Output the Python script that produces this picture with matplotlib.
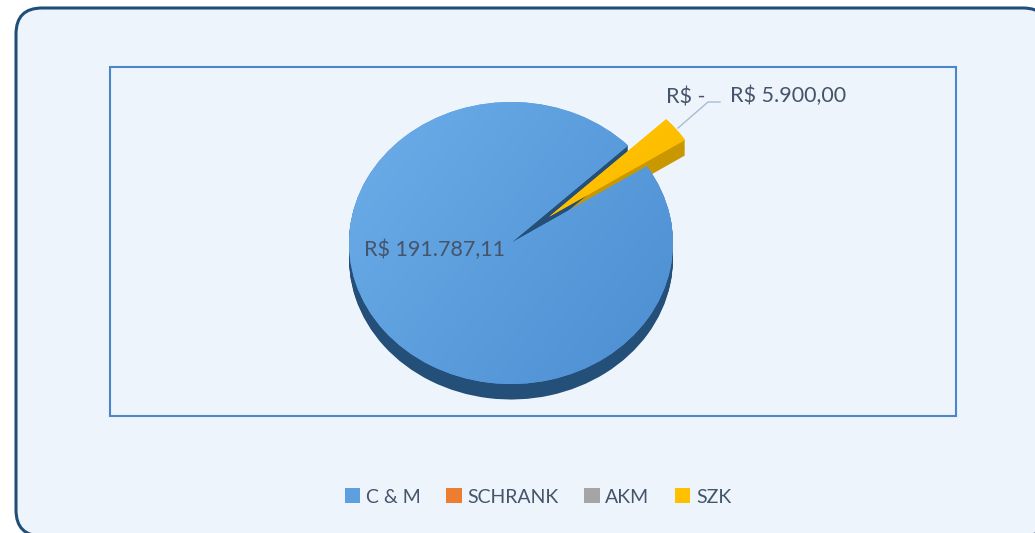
import numpy as np
import matplotlib.pyplot as plt
from matplotlib.patches import FancyBboxPatch, Rectangle
from matplotlib.colors import LinearSegmentedColormap

plt.rcParams['font.family'] = ['Lato', 'DejaVu Sans']

W, H = 1035, 533

categories = ['C & M', 'SCHRANK', 'AKM', 'SZK']
values = [191787.11, 0.0, 0.0, 5900.00]
top_colors = ['#5E9FDF', '#ED7D31', '#A5A5A5', '#FFC000']
side_colors = ['#244F79', '#B35A1F', '#7B7B7B', '#C99700']
explode = [0, 0, 0, 0.3]

txt_color = '#44546A'


def brl(v):
    if v == 0:
        return 'R$ -'
    s = f'{v:,.2f}'.replace(',', 'X').replace('.', ',').replace('X', '.')
    return 'R$ ' + s


fig = plt.figure(figsize=(W / 100, H / 100), dpi=100)
fig.patch.set_facecolor('white')

# background axes in pixel units
bg = fig.add_axes([0, 0, 1, 1])
bg.set_xlim(0, W)
bg.set_ylim(H, 0)
bg.axis('off')
bg.add_patch(FancyBboxPatch((16, 8), 1033, 528,
                            boxstyle='round,pad=0,rounding_size=26',
                            fc='#EEF4FC', ec='#1F4E79', lw=2.2))
bg.add_patch(Rectangle((110, 67), 846, 349, fill=False, ec='#4A86C8', lw=1.5))

# pie axes: unit circle stretched into an ellipse
cx, cy, rx, ry = 511, 243, 162, 141
depth = 0.11
ax = fig.add_axes([(cx - 1.5 * rx) / W, (H - cy - 1.5 * ry) / H, 3 * rx / W, 3 * ry / H])
ax.axis('off')

start = 33
n = 14
for d in np.linspace(depth, 0.005, n):
    w, _ = ax.pie(values, colors=side_colors, startangle=start, counterclock=False,
                  explode=explode, center=(0, -d), radius=1,
                  wedgeprops=dict(linewidth=0))
    w[0].set_zorder(2)
    w[3].set_zorder(1)

top, _ = ax.pie(values, colors=top_colors, startangle=start, counterclock=False,
                explode=explode, center=(0, 0), radius=1,
                wedgeprops=dict(linewidth=0))
top[0].set_zorder(3)
top[3].set_zorder(5)
for t in top[1:3]:
    t.set_zorder(5)

# soft shading on the top faces
gx, gy = np.meshgrid(np.linspace(0, 1, 200), np.linspace(0, 1, 200))
blue_cmap = LinearSegmentedColormap.from_list('b', ['#6CADE9', '#5C9DDD', '#4D8ED2'])
img = ax.imshow(0.6 * gx + 0.4 * gy, cmap=blue_cmap, extent=(-1, 1, -1, 1),
                origin='upper', zorder=3.5, aspect='auto')
img.set_clip_path(top[0])

yel_cmap = LinearSegmentedColormap.from_list('y', ['#FFD040', '#FFC000', '#F2B400'])
img2 = ax.imshow(0.5 * gx + 0.5 * gy, cmap=yel_cmap, extent=(-0.2, 1.6, -0.2, 1.6),
                 origin='upper', zorder=5.5, aspect='auto')
img2.set_clip_path(top[3])

ax.set_aspect('auto')
ax.set_xlim(-1.5, 1.5)
ax.set_ylim(-1.5, 1.5)

# labels overlay in pixel units
lab = fig.add_axes([0, 0, 1, 1])
lab.set_xlim(0, W)
lab.set_ylim(H, 0)
lab.axis('off')
lab.text(435, 250, brl(values[0]), ha='center', va='center', fontsize=15.5, color=txt_color)
zero_labels = sorted(set(brl(v) for v in values[1:3]))
for s in zero_labels:
    lab.text(686, 97, s, ha='center', va='center', fontsize=15.5, color=txt_color)
lab.text(788, 96, brl(values[3]), ha='center', va='center', fontsize=15.5, color=txt_color)
lab.plot([678, 708, 720], [128, 102, 102], color='#A9BCD0', lw=1)

fig.legend(handles=top, labels=categories, ncol=4, loc='center',
           bbox_to_anchor=(538 / W, 1 - 497 / H), frameon=False,
           handlelength=0.8, handleheight=0.8, handletextpad=0.3,
           columnspacing=1.3, fontsize=14, labelcolor=txt_color)

fig.savefig('out.png', dpi=100, facecolor='white')
